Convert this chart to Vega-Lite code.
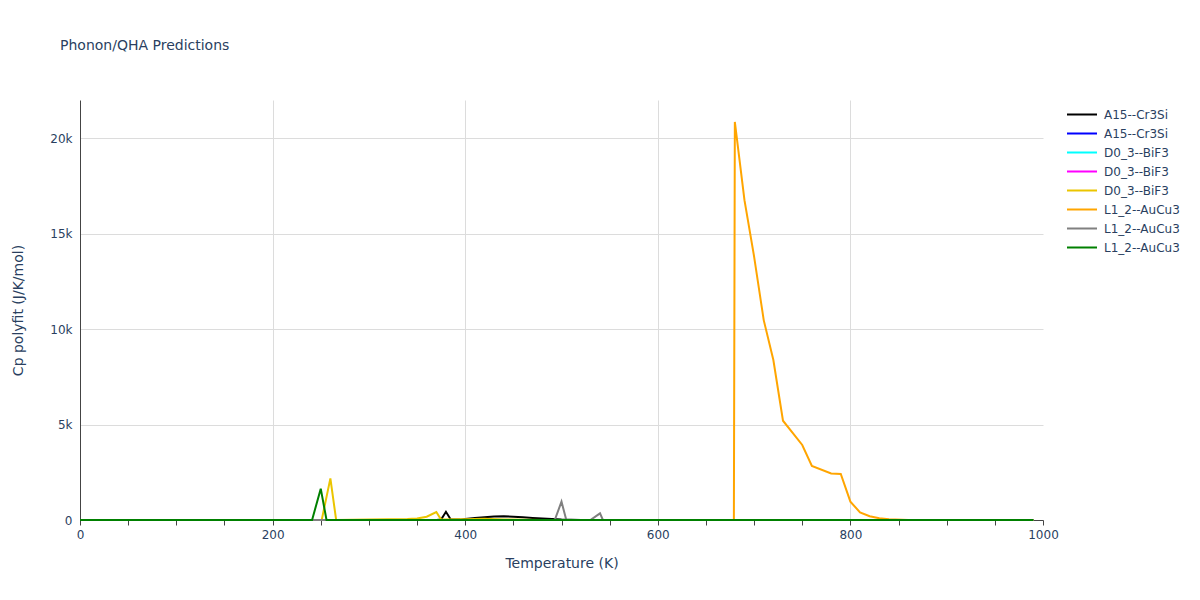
{
  "$schema": "https://vega.github.io/schema/vega-lite/v6.json",
  "width": 963,
  "height": 420,
  "autosize": {"type": "none"},
  "padding": {"left": 80, "top": 100, "right": 157, "bottom": 80},
  "background": "white",
  "title": {"text": "Phonon/QHA Predictions", "anchor": "start", "frame": "group", "dx": -20, "offset": 47, "fontSize": 14, "font": "DejaVu Sans", "fontWeight": "normal", "color": "#2a3f5f"},
  "config": {"view": {"stroke": null}, "font": "DejaVu Sans"},
  "data": {"values": [
    {"s": "1:A15--Cr3Si", "T": 0, "Cp": 0},
    {"s": "1:A15--Cr3Si", "T": 370, "Cp": 0},
    {"s": "1:A15--Cr3Si", "T": 375, "Cp": 20},
    {"s": "1:A15--Cr3Si", "T": 380, "Cp": 430},
    {"s": "1:A15--Cr3Si", "T": 385, "Cp": 20},
    {"s": "1:A15--Cr3Si", "T": 395, "Cp": 20},
    {"s": "1:A15--Cr3Si", "T": 400, "Cp": 50},
    {"s": "1:A15--Cr3Si", "T": 410, "Cp": 110},
    {"s": "1:A15--Cr3Si", "T": 420, "Cp": 150},
    {"s": "1:A15--Cr3Si", "T": 430, "Cp": 180},
    {"s": "1:A15--Cr3Si", "T": 440, "Cp": 190},
    {"s": "1:A15--Cr3Si", "T": 450, "Cp": 170},
    {"s": "1:A15--Cr3Si", "T": 460, "Cp": 140},
    {"s": "1:A15--Cr3Si", "T": 470, "Cp": 110},
    {"s": "1:A15--Cr3Si", "T": 480, "Cp": 80},
    {"s": "1:A15--Cr3Si", "T": 490, "Cp": 50},
    {"s": "1:A15--Cr3Si", "T": 500, "Cp": 20},
    {"s": "1:A15--Cr3Si", "T": 520, "Cp": 0},
    {"s": "1:A15--Cr3Si", "T": 990, "Cp": 0},
    {"s": "2:A15--Cr3Si", "T": 0, "Cp": 0},
    {"s": "2:A15--Cr3Si", "T": 500, "Cp": 0},
    {"s": "2:A15--Cr3Si", "T": 990, "Cp": 0},
    {"s": "3:D0_3--BiF3", "T": 0, "Cp": 0},
    {"s": "3:D0_3--BiF3", "T": 990, "Cp": 0},
    {"s": "4:D0_3--BiF3", "T": 0, "Cp": 0},
    {"s": "4:D0_3--BiF3", "T": 990, "Cp": 0},
    {"s": "5:D0_3--BiF3", "T": 0, "Cp": 0},
    {"s": "5:D0_3--BiF3", "T": 251, "Cp": 0},
    {"s": "5:D0_3--BiF3", "T": 260, "Cp": 2180},
    {"s": "5:D0_3--BiF3", "T": 266, "Cp": 0},
    {"s": "5:D0_3--BiF3", "T": 300, "Cp": 20},
    {"s": "5:D0_3--BiF3", "T": 340, "Cp": 50},
    {"s": "5:D0_3--BiF3", "T": 350, "Cp": 80},
    {"s": "5:D0_3--BiF3", "T": 360, "Cp": 170},
    {"s": "5:D0_3--BiF3", "T": 370, "Cp": 420},
    {"s": "5:D0_3--BiF3", "T": 375, "Cp": 20},
    {"s": "5:D0_3--BiF3", "T": 400, "Cp": 40},
    {"s": "5:D0_3--BiF3", "T": 420, "Cp": 60},
    {"s": "5:D0_3--BiF3", "T": 440, "Cp": 30},
    {"s": "5:D0_3--BiF3", "T": 480, "Cp": 0},
    {"s": "5:D0_3--BiF3", "T": 990, "Cp": 0},
    {"s": "6:L1_2--AuCu3", "T": 0, "Cp": 0},
    {"s": "6:L1_2--AuCu3", "T": 600, "Cp": 0},
    {"s": "6:L1_2--AuCu3", "T": 679, "Cp": 0},
    {"s": "6:L1_2--AuCu3", "T": 680, "Cp": 20850},
    {"s": "6:L1_2--AuCu3", "T": 690, "Cp": 16750},
    {"s": "6:L1_2--AuCu3", "T": 700, "Cp": 13800},
    {"s": "6:L1_2--AuCu3", "T": 710, "Cp": 10470},
    {"s": "6:L1_2--AuCu3", "T": 720, "Cp": 8380},
    {"s": "6:L1_2--AuCu3", "T": 730, "Cp": 5200},
    {"s": "6:L1_2--AuCu3", "T": 750, "Cp": 3930},
    {"s": "6:L1_2--AuCu3", "T": 760, "Cp": 2830},
    {"s": "6:L1_2--AuCu3", "T": 780, "Cp": 2440},
    {"s": "6:L1_2--AuCu3", "T": 790, "Cp": 2410},
    {"s": "6:L1_2--AuCu3", "T": 800, "Cp": 960},
    {"s": "6:L1_2--AuCu3", "T": 810, "Cp": 400},
    {"s": "6:L1_2--AuCu3", "T": 820, "Cp": 200},
    {"s": "6:L1_2--AuCu3", "T": 830, "Cp": 90},
    {"s": "6:L1_2--AuCu3", "T": 840, "Cp": 40},
    {"s": "6:L1_2--AuCu3", "T": 860, "Cp": 0},
    {"s": "6:L1_2--AuCu3", "T": 990, "Cp": 0},
    {"s": "7:L1_2--AuCu3", "T": 0, "Cp": 0},
    {"s": "7:L1_2--AuCu3", "T": 493, "Cp": 0},
    {"s": "7:L1_2--AuCu3", "T": 500, "Cp": 960},
    {"s": "7:L1_2--AuCu3", "T": 505, "Cp": 0},
    {"s": "7:L1_2--AuCu3", "T": 530, "Cp": 0},
    {"s": "7:L1_2--AuCu3", "T": 540, "Cp": 350},
    {"s": "7:L1_2--AuCu3", "T": 543, "Cp": 0},
    {"s": "7:L1_2--AuCu3", "T": 990, "Cp": 0},
    {"s": "8:L1_2--AuCu3", "T": 0, "Cp": 0},
    {"s": "8:L1_2--AuCu3", "T": 241, "Cp": 0},
    {"s": "8:L1_2--AuCu3", "T": 250, "Cp": 1640},
    {"s": "8:L1_2--AuCu3", "T": 256, "Cp": 0},
    {"s": "8:L1_2--AuCu3", "T": 990, "Cp": 0}
  ]},
  "mark": {"type": "line", "strokeWidth": 2, "clip": false},
  "encoding": {
    "x": {
      "field": "T", "type": "quantitative",
      "scale": {"domain": [0, 1000], "nice": false, "zero": false},
      "axis": {
        "title": "Temperature (K)",
        "values": [0, 50, 100, 150, 200, 250, 300, 350, 400, 450, 500, 550, 600, 650, 700, 750, 800, 850, 900, 950, 1000],
        "labelExpr": "datum.value % 200 === 0 ? '' + datum.value : ''",
        "grid": true,
        "gridColor": "#dcdcdc",
        "gridOpacity": {"condition": {"test": "datum.value % 200 === 0 && datum.value > 0 && datum.value < 1000", "value": 1}, "value": 0},
        "domainColor": "#444444",
        "tickColor": "#444444",
        "tickSize": 5,
        "labelColor": "#2a3f5f",
        "labelFontSize": 12,
        "labelPadding": 4,
        "labelFlush": false,
        "titleColor": "#2a3f5f",
        "titleFontSize": 14,
        "titleFontWeight": "normal",
        "titlePadding": 16
      }
    },
    "y": {
      "field": "Cp", "type": "quantitative",
      "scale": {"domain": [0, 22000], "nice": false},
      "axis": {
        "title": "Cp polyfit (J/K/mol)",
        "values": [0, 5000, 10000, 15000, 20000],
        "labelExpr": "datum.value === 0 ? '0' : (datum.value / 1000) + 'k'",
        "ticks": false,
        "grid": true,
        "gridColor": "#dcdcdc",
        "domainColor": "#444444",
        "labelColor": "#2a3f5f",
        "labelFontSize": 12,
        "labelPadding": 8,
        "titleColor": "#2a3f5f",
        "titleFontSize": 14,
        "titleFontWeight": "normal",
        "titlePadding": 24
      }
    },
    "color": {
      "field": "s", "type": "nominal",
      "scale": {
        "domain": ["1:A15--Cr3Si", "2:A15--Cr3Si", "3:D0_3--BiF3", "4:D0_3--BiF3", "5:D0_3--BiF3", "6:L1_2--AuCu3", "7:L1_2--AuCu3", "8:L1_2--AuCu3"],
        "range": ["#000000", "#0000ff", "#00ffff", "#ff00ff", "#ebc500", "#ffa500", "#808080", "#008000"]
      },
      "legend": {
        "orient": "none",
        "legendX": 986,
        "legendY": 5,
        "title": null,
        "symbolType": "stroke",
        "symbolSize": 900,
        "symbolStrokeWidth": 2,
        "labelFontSize": 12,
        "labelColor": "#2a3f5f",
        "rowPadding": 0,
        "clipHeight": 19,
        "labelOffset": 6,
        "labelExpr": "slice(datum.label, 2)"
      }
    },
    "order": {"field": "T"}
  }
}
